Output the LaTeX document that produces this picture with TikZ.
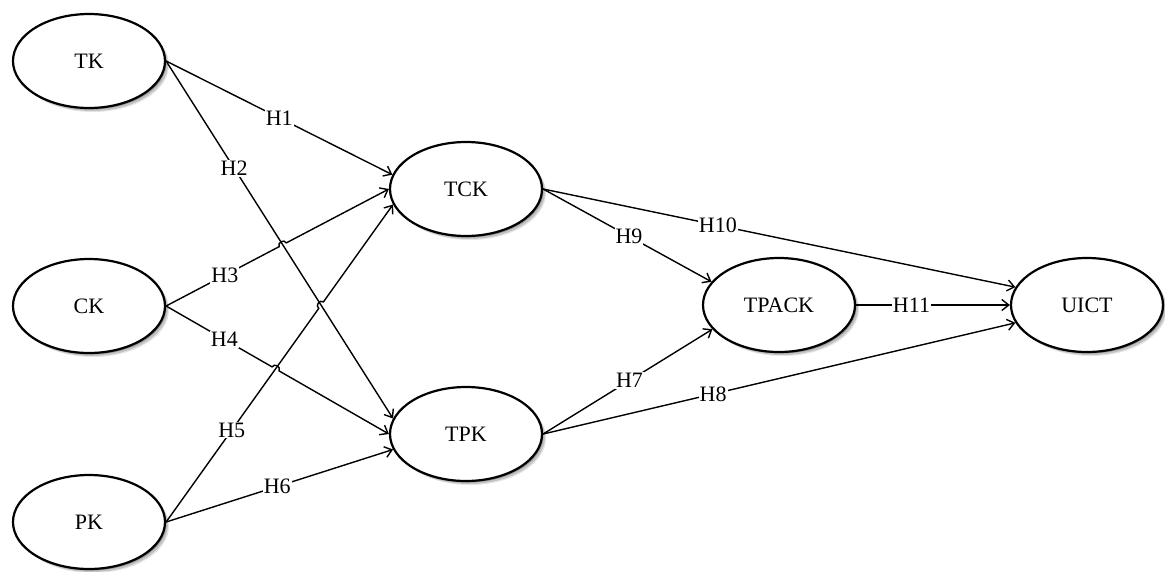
\documentclass[tikz,border=0pt]{standalone}
\usepackage{fontspec}
\setmainfont{Liberation Serif}
\usetikzlibrary{shapes.geometric,arrows.meta,shadows,calc,intersections}
\begin{document}
\begin{tikzpicture}[x=1pt,y=-1pt,
  construct/.style={ellipse, draw=black, line width=2.2pt, fill=white,
    minimum width=152pt, minimum height=94pt, inner sep=0pt,
    font=\fontsize{22}{25}\selectfont,
    drop shadow={shadow xshift=4pt, shadow yshift=-4pt, opacity=0.10, fill=black},
    drop shadow={shadow xshift=3pt, shadow yshift=-3pt, opacity=0.15, fill=black},
    drop shadow={shadow xshift=1.5pt, shadow yshift=-1.5pt, opacity=0.25, fill=black}},
  edge/.style={draw=black, line width=1.4pt, -{Straight Barb[length=7pt,width=11pt,line width=1.4pt]}},
  lab/.style={fill=white, inner sep=1pt, font=\fontsize{22}{25}\selectfont},
  hop/.style={bend left=90, looseness=1.5}]
\useasboundingbox (0,0) rectangle (1165,571);
% constructs
\node[construct] (TK) at (89,61) {TK};
\node[construct] (CK) at (89,306) {CK};
\node[construct] (PK) at (89,522) {PK};
\node[construct] (TCK) at (466,189) {TCK};
\node[construct] (TPK) at (466,434) {TPK};
\node[construct] (TPACK) at (779,305) {TPACK};
\node[construct] (UICT) at (1087,305) {UICT};
% helper paths for crossings
\path[name path=p2] (TK.east) -- (TPK.168);
\path[name path=p3] (CK.east) -- (TCK.180);
\path[name path=p4] (CK.east) -- (TPK.180);
\path[name path=p5] (PK.east) -- (TCK.192);
\path[name intersections={of=p2 and p3, by=x23}];
\path[name intersections={of=p2 and p5, by=x25}];
\path[name intersections={of=p4 and p5, by=x45}];
% edges
\draw[edge] (TK.east) -- node[lab,pos=0.5] (l1) {H1} (TCK.169);
\draw[edge] (TK.east) -- node[lab,pos=0.3] (l2) {H2} (TPK.168);
\draw[edge] (CK.east) -- node[lab,pos=0.52] (l3) {H3} ($(x23)!4pt!(CK.east)$)
  to[hop] ($(x23)!4pt!(TCK.180)$) -- (TCK.180);
\draw[edge] (CK.east) -- node[lab,pos=0.55] (l4) {H4} ($(x45)!4pt!(CK.east)$)
  to[hop] ($(x45)!4pt!(TPK.180)$) -- (TPK.180);
\draw[edge] (PK.east) -- node[lab,pos=0.43] (l5) {H5} ($(x25)!4pt!(PK.east)$)
  to[hop] ($(x25)!4pt!(TCK.192)$) -- (TCK.192);
\draw[edge] (PK.east) -- node[lab,pos=0.49] (l6) {H6} (TPK.192);
\draw[edge] (TPK.east) -- node[lab,pos=0.51] (l7) {H7} (TPACK.200);
\draw[edge] (TPK.east) -- node[lab,pos=0.36] (l8) {H8} (UICT.194);
\draw[edge] (TCK.east) -- node[lab,pos=0.51] (l9) {H9} (TPACK.161);
\draw[edge] (TCK.east) -- node[lab,pos=0.37] (l10) {H10} (UICT.166);
\draw[edge] (TPACK.east) -- node[lab,pos=0.36] (l11) {H11} (UICT.west);
\end{tikzpicture}
\end{document}
